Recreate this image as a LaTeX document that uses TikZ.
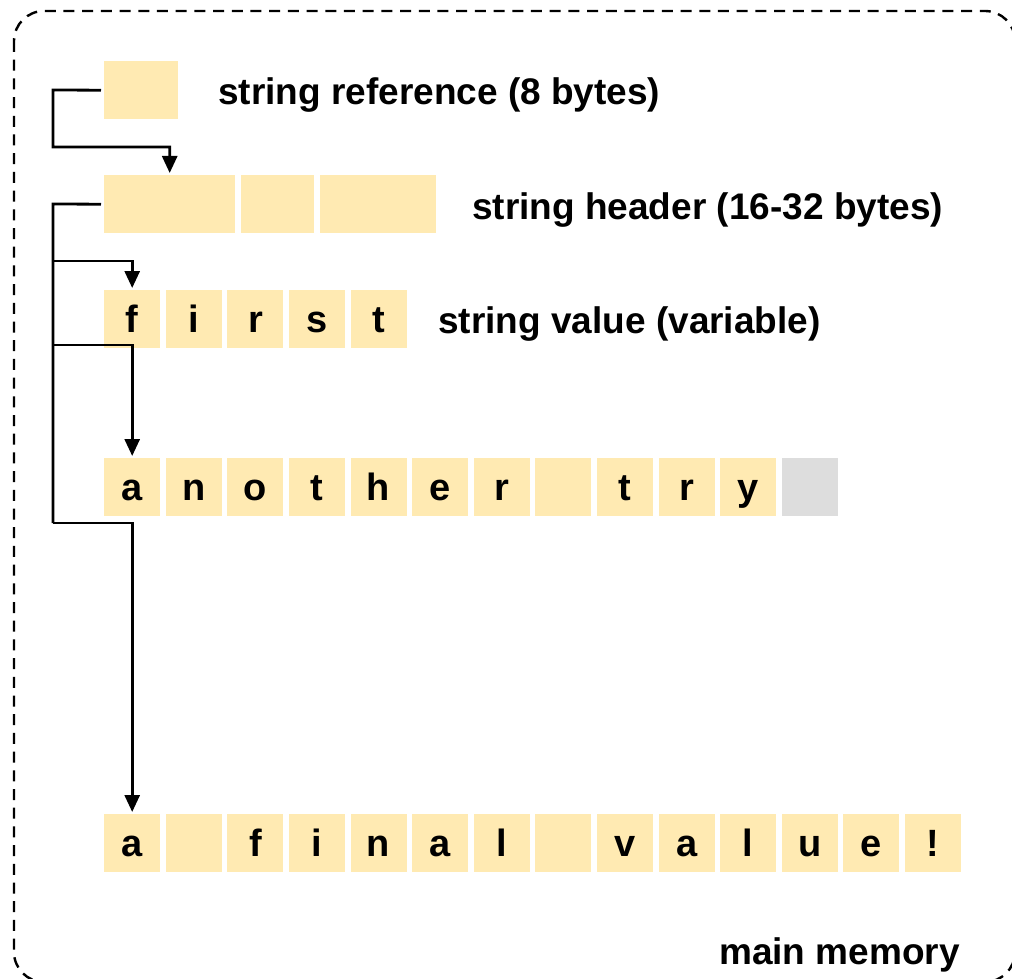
\documentclass[tikz,border=0pt]{standalone}
\usepackage{fontspec}
\setmainfont{Liberation Sans}
\usetikzlibrary{arrows.meta}
\definecolor{cellfill}{RGB}{255,234,178}
\definecolor{padfill}{RGB}{221,221,221}
\tikzset{
  cell/.style={fill=cellfill, draw=none, inner sep=0pt, anchor=north west,
    minimum width=56pt, minimum height=57.5pt,
    text height=28pt, text depth=0pt,
    font=\bfseries\fontsize{38}{38}\selectfont},
  pad/.style={cell, fill=padfill},
  caption/.style={inner sep=0pt, anchor=base west,
    font=\bfseries\fontsize{37}{37}\selectfont},
  link/.style={line width=2.8pt, line join=miter},
  arrow/.style={link, shorten >=2pt, -{Triangle[width=15pt,length=17pt]}},
  memory/.style={dash pattern=on 11pt off 7.7pt, line width=2.4pt, rounded corners=30pt}
}
\begin{document}
\begin{tikzpicture}[x=1pt, y=-1pt]
\useasboundingbox (0,0) rectangle (1012,979);

% main memory region
\draw[memory] (14,11) rectangle (1015,982);
\node[caption, anchor=base east] (mem) at (960,964) {main memory};

% string reference
\node[cell, minimum width=74pt, minimum height=58pt] (ref) at (104,61) {};
\node[caption] (lref) at (218,105) {string reference (8 bytes)};

% string header
\node[cell, minimum width=131pt, minimum height=58pt] (h1) at (104,175) {};
\node[cell, minimum width=73pt, minimum height=58pt] (h2) at (241,175) {};
\node[cell, minimum width=116pt, minimum height=58pt] (h3) at (320,175) {};
\node[caption] (lhead) at (472,219) {string header (16-32 bytes)};

% first value
\foreach \ch [count=\i] in {f,i,r,s,t}
  \node[cell] (a\i) at ({104+61.6*(\i-1)},290) {\ch};
\node[caption] (lval) at (438,333) {string value (variable)};

% second value
\foreach \ch [count=\i] in {a,n,o,t,h,e,r,{},t,r,y}
  \node[cell] (b\i) at ({104+61.6*(\i-1)},458) {\ch};
\node[pad] (b12) at ({104+61.6*11},458) {};

% third value
\foreach \ch [count=\i] in {a,{},f,i,n,a,l,{},v,a,l,u,e,!}
  \node[cell] (c\i) at ({104+61.6*(\i-1)},814) {\ch};

% reference -> header
\draw[arrow] ([xshift=-3pt]ref.west) -- (53,90) -- (53,147) -| (h1.north);

% header -> values
\draw[link] ([xshift=-3pt]h1.west) -- (53,204) -- (53,523);
\draw[arrow] (53,261) -| (a1.north);
\draw[arrow] (53,345) -| (b1.north);
\draw[arrow] (53,523) -| (c1.north);
\end{tikzpicture}
\end{document}
